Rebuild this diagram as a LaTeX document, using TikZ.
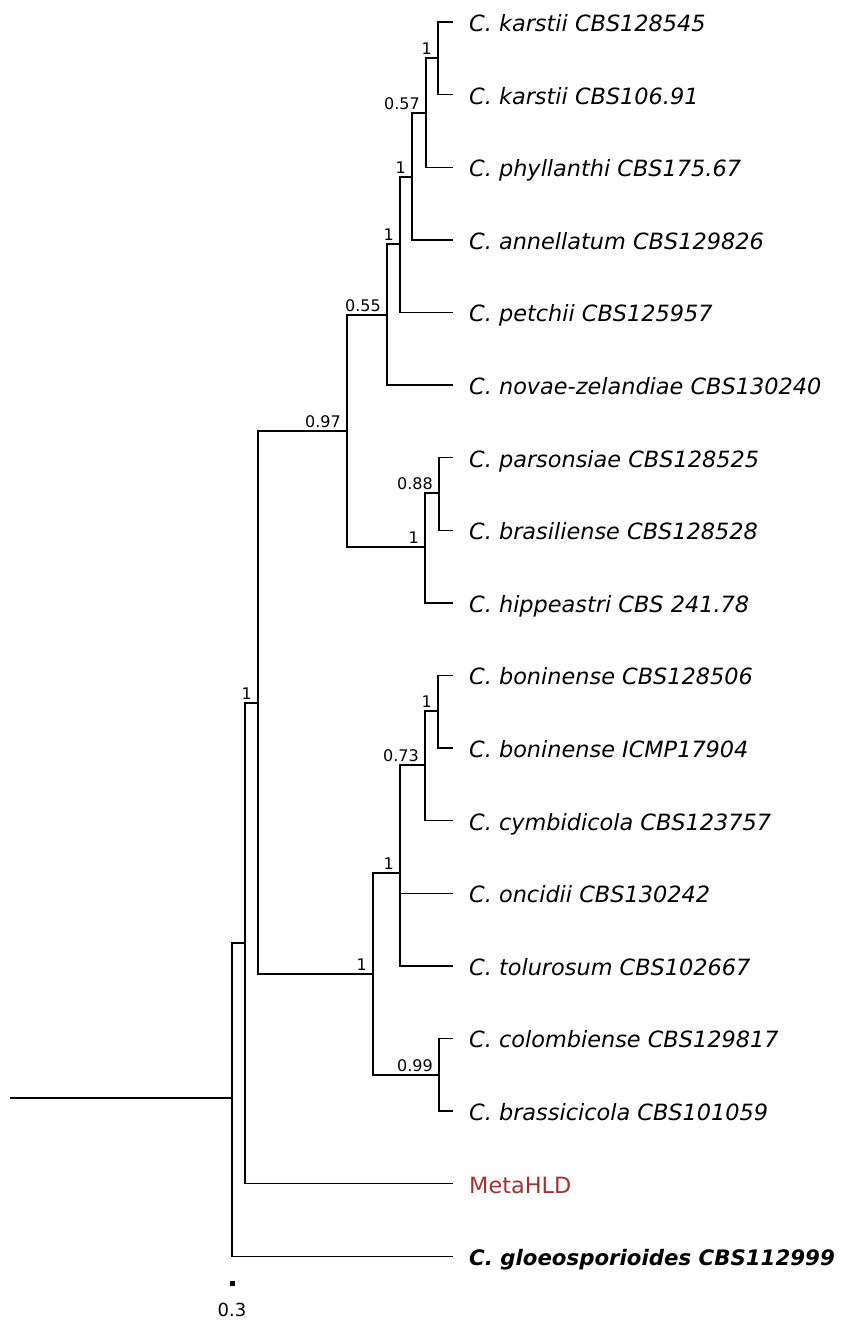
\documentclass[tikz,border=0pt]{standalone}
\usepackage{fontspec}
\setmainfont{DejaVu Sans}
\definecolor{metared}{RGB}{160,50,50}

\tikzset{
  branch/.style={line width=1.4pt},
  leaf/.style={anchor=west, inner xsep=16pt, inner ysep=0pt, text height=24pt, text depth=5pt,
    font=\fontsize{22.4}{26}\selectfont\itshape},
  support/.style={anchor=south east, inner sep=0pt, font=\fontsize{16}{18}\selectfont},
}

\begin{document}
\begin{tikzpicture}[x=1pt,y=-1pt]
    \useasboundingbox (0,0) rectangle (844,1320);
    % Leaves
    \node[leaf] (l1) at (453,22) {C. karstii CBS128545};
    \node[leaf] (l2) at (453,94.6) {C. karstii CBS106.91};
    \node[leaf] (l3) at (453,167.2) {C. phyllanthi CBS175.67};
    \node[leaf] (l4) at (453,239.8) {C. annellatum CBS129826};
    \node[leaf] (l5) at (453,312.4) {C. petchii CBS125957};
    \node[leaf] (l6) at (453,385) {C. novae-zelandiae CBS130240};
    \node[leaf] (l7) at (453,457.6) {C. parsonsiae CBS128525};
    \node[leaf] (l8) at (453,530.2) {C. brasiliense CBS128528};
    \node[leaf] (l9) at (453,602.8) {C. hippeastri CBS 241.78};
    \node[leaf] (l10) at (453,675.4) {C. boninense CBS128506};
    \node[leaf] (l11) at (453,748) {C. boninense ICMP17904};
    \node[leaf] (l12) at (453,820.6) {C. cymbidicola CBS123757};
    \node[leaf] (l13) at (453,893.2) {C. oncidii CBS130242};
    \node[leaf] (l14) at (453,965.8) {C. tolurosum CBS102667};
    \node[leaf] (l15) at (453,1038.4) {C. colombiense CBS129817};
    \node[leaf] (l16) at (453,1111) {C. brassicicola CBS101059};
    \node[leaf, font=\fontsize{22.4}{26}\selectfont, text=metared] (l17) at (453,1183.6) {MetaHLD};
    \node[leaf, font=\fontsize{21.3}{25}\selectfont\bfseries\itshape] (l18) at (453,1256.2) {C. gloeosporioides CBS112999};
    % Internal nodes
    \coordinate (n1) at (438,58);
    \coordinate (n2) at (426,113);
    \coordinate (n3) at (412,177);
    \coordinate (n4) at (400,244);
    \coordinate (n5) at (387,315);
    \coordinate (n6) at (439,493);
    \coordinate (n7) at (425,547);
    \coordinate (n8) at (347,431);
    \coordinate (n9) at (438,711);
    \coordinate (n10) at (425,765);
    \coordinate (n11) at (400,873);
    \coordinate (n12) at (439,1075);
    \coordinate (n13) at (373,974);
    \coordinate (n14) at (258,703);
    \coordinate (n15) at (245,943);
    \coordinate (root) at (232,1098);
    \coordinate (base) at (10,1098);
    % Branches
    \draw[branch] (n1) |- (l1); \draw[branch] (n1) |- (l2);
    \draw[branch] (n2) |- (n1); \draw[branch] (n2) |- (l3);
    \draw[branch] (n3) |- (n2); \draw[branch] (n3) |- (l4);
    \draw[branch] (n4) |- (n3); \draw[branch] (n4) |- (l5);
    \draw[branch] (n5) |- (n4); \draw[branch] (n5) |- (l6);
    \draw[branch] (n6) |- (l7); \draw[branch] (n6) |- (l8);
    \draw[branch] (n7) |- (n6); \draw[branch] (n7) |- (l9);
    \draw[branch] (n8) |- (n5); \draw[branch] (n8) |- (n7);
    \draw[branch] (n9) |- (l10); \draw[branch] (n9) |- (l11);
    \draw[branch] (n10) |- (n9); \draw[branch] (n10) |- (l12);
    \draw[branch] (n11) |- (n10); \draw[branch] (n11) |- (l13); \draw[branch] (n11) |- (l14);
    \draw[branch] (n12) |- (l15); \draw[branch] (n12) |- (l16);
    \draw[branch] (n13) |- (n11); \draw[branch] (n13) |- (n12);
    \draw[branch] (n14) |- (n8); \draw[branch] (n14) |- (n13);
    \draw[branch] (n15) |- (n14); \draw[branch] (n15) |- (l17);
    \draw[branch] (root) |- (n15); \draw[branch] (root) |- (l18);
    \draw[branch] (base) -- (root);
    % Support values
    \node[support] (s1) at ([xshift=-6pt,yshift=3pt]n1) {1};
    \node[support] (s2) at ([xshift=-6pt,yshift=3pt]n2) {0.57};
    \node[support] (s3) at ([xshift=-6pt,yshift=3pt]n3) {1};
    \node[support] (s4) at ([xshift=-6pt,yshift=3pt]n4) {1};
    \node[support] (s5) at ([xshift=-6pt,yshift=3pt]n5) {0.55};
    \node[support] (s6) at ([xshift=-6pt,yshift=3pt]n6) {0.88};
    \node[support] (s7) at ([xshift=-6pt,yshift=3pt]n7) {1};
    \node[support] (s8) at ([xshift=-6pt,yshift=3pt]n8) {0.97};
    \node[support] (s9) at ([xshift=-6pt,yshift=3pt]n9) {1};
    \node[support] (s10) at ([xshift=-6pt,yshift=3pt]n10) {0.73};
    \node[support] (s11) at ([xshift=-6pt,yshift=3pt]n11) {1};
    \node[support] (s12) at ([xshift=-6pt,yshift=3pt]n12) {0.99};
    \node[support] (s13) at ([xshift=-6pt,yshift=3pt]n13) {1};
    \node[support] (s14) at ([xshift=-6pt,yshift=3pt]n14) {1};
    % Scale bar
    \fill (229.5,1280.5) rectangle (234.5,1285.5);
    \node[font=\fontsize{18}{21}\selectfont] (scale) at (232,1310) {0.3};
\end{tikzpicture}
\end{document}
